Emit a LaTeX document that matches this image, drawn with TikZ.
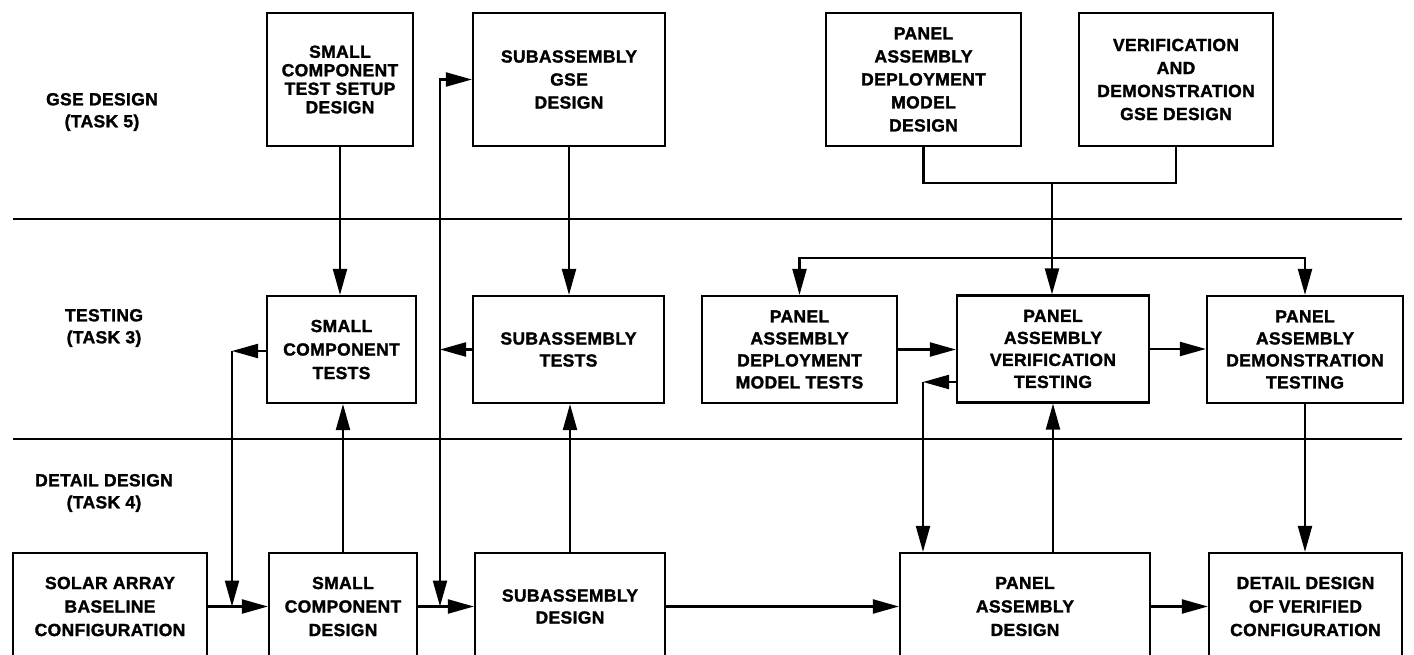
\documentclass[tikz,border=0pt]{standalone}
\usepackage{fontspec}
\setmainfont{Liberation Sans}[FakeBold=1.6,LetterSpace=2]
\usetikzlibrary{arrows.meta}
\begin{document}
\begin{tikzpicture}[x=1pt,y=-1pt,
  box/.style={draw,line width=2.2pt,align=center,inner sep=0pt,font=\fontsize{17.5}{23}\selectfont\bfseries},
  tbox/.style={box,minimum height=107pt,font=\fontsize{17.5}{22}\selectfont\bfseries},
  gbox/.style={box,minimum height=133pt},
  lbl/.style={align=center,inner sep=0pt,font=\fontsize{17.5}{22}\selectfont\bfseries},
  arr/.style={line width=2.2pt,-{Triangle[length=26pt,width=14pt]}},
  ln/.style={line width=2.2pt}]
\clip (0,0) rectangle (1414,655);
\useasboundingbox (0,0) rectangle (1414,655);

% row labels
\node[lbl] (L1) at (102,112) {GSE DESIGN\\(TASK 5)};
\node[lbl] (L2) at (104,328) {TESTING\\(TASK 3)};
\node[lbl] (L3) at (104,493) {DETAIL DESIGN\\(TASK 4)};

% divider lines
\coordinate (D1a) at (13,219);  \coordinate (D1b) at (1402,219);
\coordinate (D2a) at (13,439);  \coordinate (D2b) at (1402,439);
\draw[ln] (D1a) -- (D1b);
\draw[ln] (D2a) -- (D2b);

% GSE design row
\node[gbox,minimum width=146pt,font=\fontsize{17.5}{18.5}\selectfont\bfseries] (SCTSD) at (340,79.5) {SMALL\\COMPONENT\\TEST SETUP\\DESIGN};
\node[gbox,minimum width=192pt] (SAGSED) at (569,79.5) {SUBASSEMBLY\\GSE\\DESIGN};
\node[gbox,minimum width=195pt] (PADMD) at (923.5,79.5) {PANEL\\ASSEMBLY\\DEPLOYMENT\\MODEL\\DESIGN};
\node[gbox,minimum width=194pt] (VDGSED) at (1176,79.5) {VERIFICATION\\AND\\DEMONSTRATION\\GSE DESIGN};

% testing row
\node[tbox,minimum width=149pt,font=\fontsize{17.5}{23.5}\selectfont\bfseries] (SCT) at (341.5,349.5) {SMALL\\COMPONENT\\TESTS};
\node[tbox,minimum width=191pt] (SAT) at (568.5,349.5) {SUBASSEMBLY\\TESTS};
\node[tbox,minimum width=195pt] (PADMT) at (799.5,349.5) {PANEL\\ASSEMBLY\\DEPLOYMENT\\MODEL TESTS};
\node[tbox,minimum width=192pt] (PAVT) at (1053,349) {PANEL\\ASSEMBLY\\VERIFICATION\\TESTING};
\node[tbox,minimum width=196pt] (PADT) at (1305,349.5) {PANEL\\ASSEMBLY\\DEMONSTRATION\\TESTING};

% detail design row (cut off at the bottom)
\node[tbox,minimum width=194pt,font=\fontsize{17.5}{23.5}\selectfont\bfseries] (SABC) at (110,606.5) {SOLAR ARRAY\\BASELINE\\CONFIGURATION};
\node[tbox,minimum width=148pt,font=\fontsize{17.5}{23.5}\selectfont\bfseries] (SCD) at (343,606.5) {SMALL\\COMPONENT\\DESIGN};
\node[tbox,minimum width=190pt] (SD) at (570,606.5) {SUBASSEMBLY\\DESIGN};
\node[tbox,minimum width=250pt,font=\fontsize{17.5}{23.5}\selectfont\bfseries] (PAD) at (1025,606.5) {PANEL\\ASSEMBLY\\DESIGN};
\node[tbox,minimum width=193pt,font=\fontsize{17.5}{23.5}\selectfont\bfseries] (DDVC) at (1305.5,606.5) {DETAIL DESIGN\\OF VERIFIED\\CONFIGURATION};

% junction coordinates
\coordinate (J1) at (1052,183);
\coordinate (J2) at (1052,258);
\coordinate (C1) at (232,351);
\coordinate (C2) at (440,349.5);
\coordinate (C3) at (923,382);

% GSE -> testing
\draw[arr] (SCTSD.south) -- (SCTSD.south |- SCT.north);
\draw[arr] (SAGSED.south) -- (SAGSED.south |- SAT.north);
\draw[ln] (PADMD.south) |- (J1) -| (VDGSED.south);
\draw[arr] (J1) -- (J1 |- PAVT.north);
\draw[arr] (J2) -| (PADMT.north);
\draw[arr] (J2) -| (PADT.north);

% testing row
\draw[arr] (PADMT.east) -- (PADMT.east -| PAVT.west);
\draw[arr] (PAVT.east) -- (PAVT.east -| PADT.west);

% small component loop
\draw[arr] (SCT.west |- C1) -- (C1);
\draw[arr] (C1) -- (C1 |- SCD.west);
\draw[arr] (SABC.east) -- (SCD.west);
\draw[arr] (SCD.north) -- (SCD.north |- SCT.south);

% subassembly loop
\draw[arr] (SAT.west) -- (C2);
\draw[arr] (C2) |- (SAGSED.west);
\draw[arr] (C2) -- (C2 |- SD.west);
\draw[arr] (SCD.east) -- (SD.west);
\draw[arr] (SD.north) -- (SD.north |- SAT.south);
\draw[arr] (SD.east) -- (PAD.west);

% panel assembly loop
\draw[arr] (PAVT.west |- C3) -- (C3);
\draw[arr] (C3) -- (C3 |- PAD.north);
\draw[arr] (PAVT.south |- PAD.north) -- (PAVT.south);
\draw[arr] (PADT.south) -- (PADT.south |- DDVC.north);
\draw[arr] (PAD.east) -- (DDVC.west);
\end{tikzpicture}
\end{document}
